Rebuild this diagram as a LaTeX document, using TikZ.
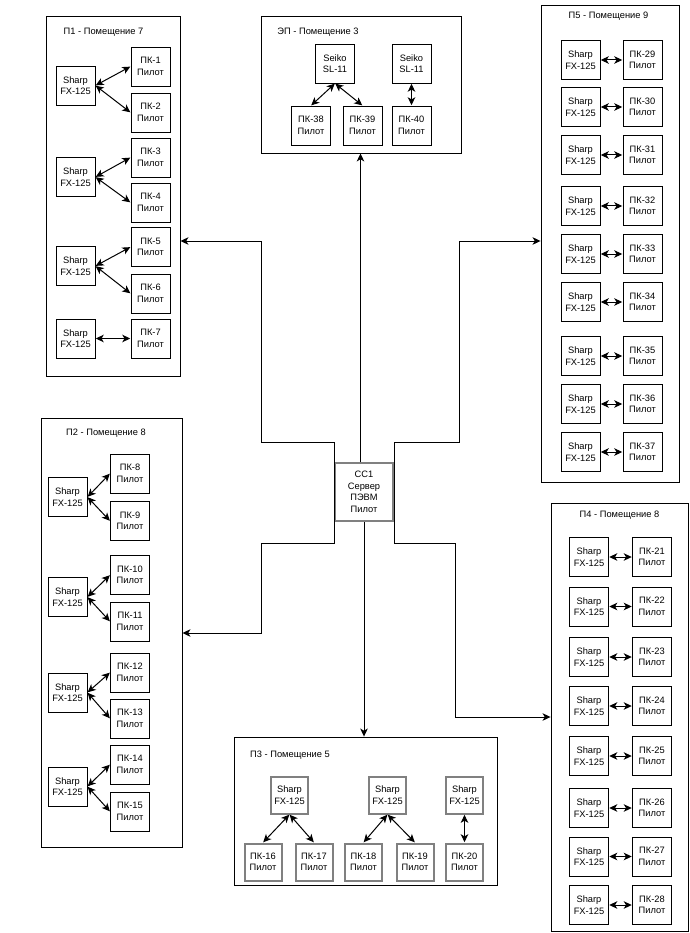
\documentclass[tikz,border=0pt]{standalone}
\usepackage{fontspec}
\setmainfont{Liberation Sans}
\usetikzlibrary{arrows.meta}
\newcommand\dfont{\fontsize{9.3}{11.5}\selectfont}
\tikzset{
  dev/.style={draw=black, line width=0.9pt, minimum width=39pt, minimum height=39pt, inner sep=0pt, align=center, font=\dfont, fill=white},
  gdev/.style={dev, draw=black!50, line width=2pt, minimum width=37pt, minimum height=37pt},
  room/.style={draw=black, line width=0.9pt, inner sep=0pt},
  ttl/.style={inner sep=0pt, font=\dfont},
  tip/.tip={Stealth[length=8pt,width=7.5pt,inset=2.2pt]},
  dbl/.style={line width=1pt, {tip}-{tip}, shorten <=0.3pt, shorten >=0.3pt},
  conn/.style={line width=0.9pt, -{tip}}
}
\begin{document}
\begin{tikzpicture}[x=1pt,y=-1pt]
\useasboundingbox (0,0) rectangle (689,933);
\fill[white] (0,0) rectangle (689,933);

% ---------- rooms ----------
\node[room, minimum width=134pt, minimum height=360pt] (p1) at (113,196) {};
\node[room, minimum width=200pt, minimum height=137pt] (ep) at (361,84.5) {};
\node[room, minimum width=138pt, minimum height=477pt] (p5) at (610,243.5) {};
\node[room, minimum width=141pt, minimum height=429pt] (p2) at (111.5,632.5) {};
\node[room, minimum width=263pt, minimum height=148pt] (p3) at (365.5,811) {};
\node[room, minimum width=137pt, minimum height=428pt] (p4) at (619.5,717) {};

\node[ttl] (t1) at (103.5,32) {П1 - Помещение 7};
\node[ttl] (tep) at (318,32) {ЭП - Помещение 3};
\node[ttl] (t5) at (608.5,16) {П5 - Помещение 9};
\node[ttl] (t2) at (106,433) {П2 - Помещение 8};
\node[ttl] (t3) at (290,755) {П3 - Помещение 5};
\node[ttl] (t4) at (619.5,515) {П4 - Помещение 8};

% ---------- server ----------
\node[gdev, minimum width=58pt, minimum height=58pt] (cc) at (364,492) {СС1\\Сервер\\ПЭВМ\\Пилот};

% ---------- P1 ----------
\node[dev] (a1) at (75.5,85.5) {Sharp\\FX-125};
\node[dev] (a2) at (75.5,177) {Sharp\\FX-125};
\node[dev] (a3) at (75.5,266) {Sharp\\FX-125};
\node[dev] (a4) at (75.5,338.5) {Sharp\\FX-125};
\node[dev] (k1) at (150.5,66.5) {ПК-1\\Пилот};
\node[dev] (k2) at (150.5,112.5) {ПК-2\\Пилот};
\node[dev] (k3) at (150.5,157.5) {ПК-3\\Пилот};
\node[dev] (k4) at (150.5,202.5) {ПК-4\\Пилот};
\node[dev] (k5) at (150.5,247) {ПК-5\\Пилот};
\node[dev] (k6) at (150.5,293.5) {ПК-6\\Пилот};
\node[dev] (k7) at (150.5,338.5) {ПК-7\\Пилот};
\draw[dbl] (a1.east) -- (k1.west);
\draw[dbl] (a1.east) -- (k2.west);
\draw[dbl] (a2.east) -- (k3.west);
\draw[dbl] (a2.east) -- (k4.west);
\draw[dbl] (a3.east) -- (k5.west);
\draw[dbl] (a3.east) -- (k6.west);
\draw[dbl] (a4.east) -- (k7.west);

% ---------- EP ----------
\node[dev] (se1) at (335,63.5) {Seiko\\SL-11};
\node[dev] (se2) at (411.5,63.5) {Seiko\\SL-11};
\node[dev] (k38) at (311,125.5) {ПК-38\\Пилот};
\node[dev] (k39) at (362.5,125.5) {ПК-39\\Пилот};
\node[dev] (k40) at (411.5,125.5) {ПК-40\\Пилот};
\draw[dbl] (se1.south) -- (k38.north);
\draw[dbl] (se1.south) -- (k39.north);
\draw[dbl] (se2.south) -- (k40.north);

% ---------- P5 ----------
\foreach \n/\y in {29/60,30/107,31/155,32/206,33/254,34/302,35/356,36/404,37/452}{
  \node[dev] (s\n) at (580.5,\y) {Sharp\\FX-125};
  \node[dev] (k\n) at (642.5,\y) {ПК-\n\\Пилот};
  \draw[dbl] (s\n) -- (k\n);
}

% ---------- P4 ----------
\foreach \n/\y in {21/557,22/606.5,23/657,24/706,25/756,26/808,27/856.5,28/905}{
  \node[dev] (s\n) at (589,\y) {Sharp\\FX-125};
  \node[dev] (k\n) at (652,\y) {ПК-\n\\Пилот};
  \draw[dbl] (s\n) -- (k\n);
}

% ---------- P2 ----------
\node[dev] (b1) at (67.5,497) {Sharp\\FX-125};
\node[dev] (b2) at (67.5,597) {Sharp\\FX-125};
\node[dev] (b3) at (67.5,692.5) {Sharp\\FX-125};
\node[dev] (b4) at (67.5,786.5) {Sharp\\FX-125};
\node[dev] (k8) at (130,473.5) {ПК-8\\Пилот};
\node[dev] (k9) at (130,521) {ПК-9\\Пилот};
\node[dev] (k10) at (130,575) {ПК-10\\Пилот};
\node[dev] (k11) at (130,621.5) {ПК-11\\Пилот};
\node[dev] (k12) at (130,672.5) {ПК-12\\Пилот};
\node[dev] (k13) at (130,718.5) {ПК-13\\Пилот};
\node[dev] (k14) at (130,764.5) {ПК-14\\Пилот};
\node[dev] (k15) at (130,811.5) {ПК-15\\Пилот};
\draw[dbl] (b1.east) -- (k8.west);
\draw[dbl] (b1.east) -- (k9.west);
\draw[dbl] (b2.east) -- (k10.west);
\draw[dbl] (b2.east) -- (k11.west);
\draw[dbl] (b3.east) -- (k12.west);
\draw[dbl] (b3.east) -- (k13.west);
\draw[dbl] (b4.east) -- (k14.west);
\draw[dbl] (b4.east) -- (k15.west);

% ---------- P3 ----------
\node[gdev] (c1) at (289.5,795) {Sharp\\FX-125};
\node[gdev] (c2) at (387.5,795) {Sharp\\FX-125};
\node[gdev] (c3) at (464.5,795) {Sharp\\FX-125};
\node[gdev] (k16) at (263,862) {ПК-16\\Пилот};
\node[gdev] (k17) at (314,862) {ПК-17\\Пилот};
\node[gdev] (k18) at (363.5,862) {ПК-18\\Пилот};
\node[gdev] (k19) at (415,862) {ПК-19\\Пилот};
\node[gdev] (k20) at (464.5,862) {ПК-20\\Пилот};
\draw[dbl] (c1.south) -- (k16.north);
\draw[dbl] (c1.south) -- (k17.north);
\draw[dbl] (c2.south) -- (k18.north);
\draw[dbl] (c2.south) -- (k19.north);
\draw[dbl] (c3.south) -- (k20.north);

% ---------- server connectors ----------
\coordinate (yA) at (0,241);
\coordinate (yB) at (0,633);
\coordinate (yC) at (0,717);
\coordinate (xT) at (360.5,0);
\coordinate (xD) at (364,0);
\draw[conn] (cc.north -| xT) -- (ep.south -| xT);
\draw[conn] (cc.south -| xD) -- (p3.north -| xD);
\draw[conn] (cc.north west) |- (261,442) |- (p1.east |- yA);
\draw[conn] (cc.north east) |- (459,442) |- (p5.west |- yA);
\draw[conn] (cc.south west) |- (261,543) |- (p2.east |- yB);
\draw[conn] (cc.south east) |- (455,543) |- (p4.west |- yC);
\draw[line width=0.9pt] (cc.north west) -- (cc.south west);
\draw[line width=0.9pt] (cc.north east) -- (cc.south east);
\end{tikzpicture}
\end{document}
